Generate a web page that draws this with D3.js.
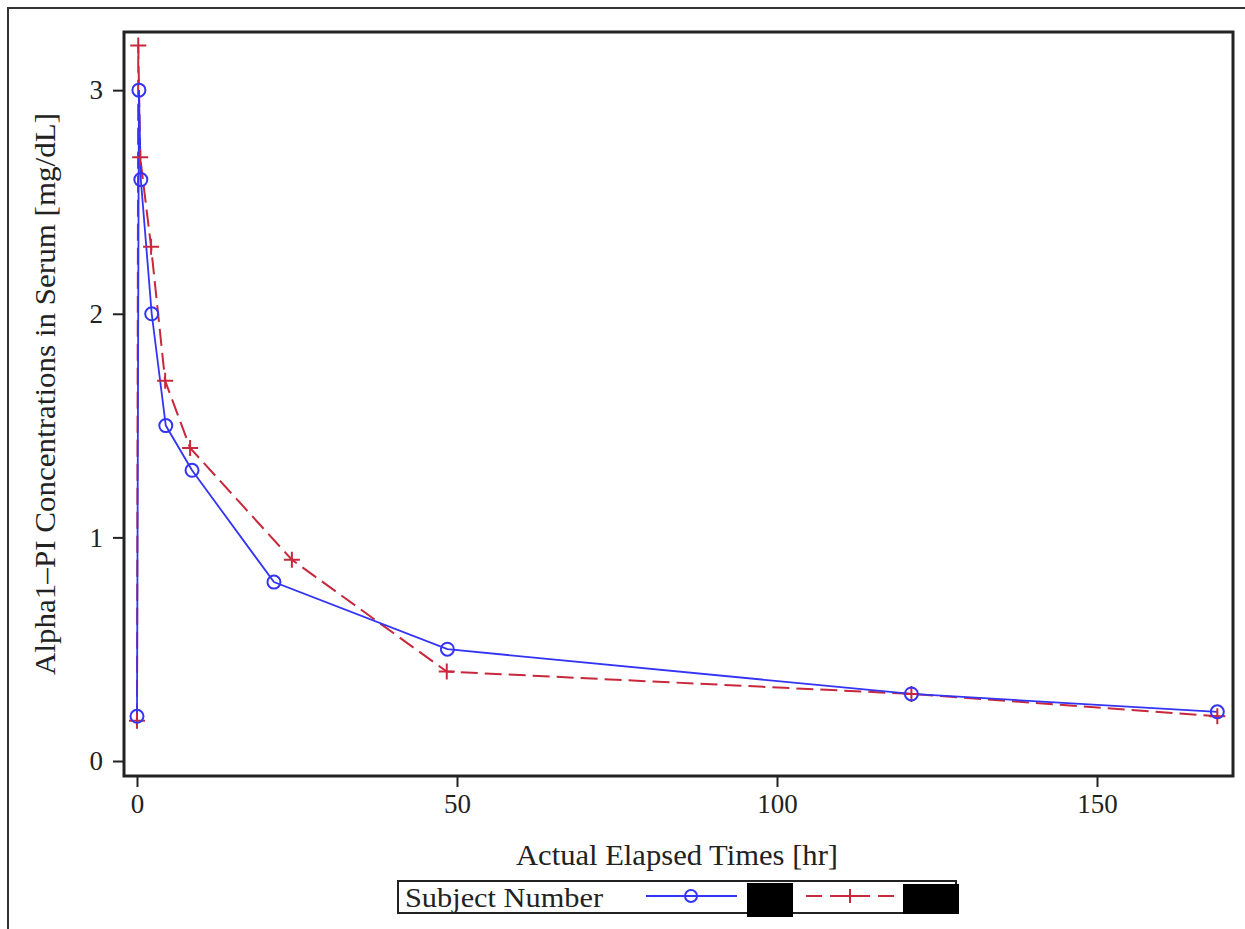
<!DOCTYPE html>
<html>
<head>
<meta charset="utf-8">
<script src="https://cdn.jsdelivr.net/npm/d3@7"></script>
<style>
  body { margin: 0; background: #fff; }
  svg { display: block; }
  text { font-family: "Liberation Serif", "DejaVu Serif", serif; fill: #222; }
</style>
</head>
<body>
<svg id="chart" width="1245" height="929"></svg>
<script>
// subject A (blue, solid, circles)
const timesA = [0, 0.3, 0.6, 2.3, 4.5, 8.6, 21.4, 48.5, 121, 168.8];
const concA  = [0.2, 3.0, 2.6, 2.0, 1.5, 1.3, 0.8, 0.5, 0.3, 0.22];
// subject B (red, dashed, plus)
const timesB = [0, 0.2, 0.5, 2.2, 4.4, 8.3, 24.2, 48.4, 121, 168.8];
const concB  = [0.18, 3.2, 2.7, 2.3, 1.7, 1.4, 0.9, 0.4, 0.3, 0.2];

const xTicks = [0, 50, 100, 150];
const yTicks = [0, 1, 2, 3];

const svg = d3.select("#chart");
const box = { left: 124, right: 1233, top: 32, bottom: 776 };

const x = d3.scaleLinear().domain([-2.03, 171.25]).range([box.left, box.right]);
const y = d3.scaleLinear().domain([-0.067, 3.26]).range([box.bottom, box.top]);

// outer frame (only top and left show)
svg.append("path")
  .attr("d", "M8,929V8H1245")
  .attr("fill", "none").attr("stroke", "#333").attr("stroke-width", 2);

// axes
const xAxis = svg.append("g")
  .attr("transform", `translate(0,${box.bottom})`)
  .call(d3.axisBottom(x).tickValues(xTicks).tickSize(11).tickPadding(7).tickFormat(d3.format("d")));
const yAxis = svg.append("g")
  .attr("transform", `translate(${box.left},0)`)
  .call(d3.axisLeft(y).tickValues(yTicks).tickSize(11).tickPadding(10).tickFormat(d3.format("d")));
[xAxis, yAxis].forEach(a => {
  a.select(".domain").remove();
  a.selectAll(".tick line").attr("stroke", "#222").attr("stroke-width", 2);
  a.selectAll(".tick text").attr("font-size", 27).attr("font-family", "Liberation Serif").attr("fill", "#222");
});

// plot frame
svg.append("rect")
  .attr("x", box.left).attr("y", box.top)
  .attr("width", box.right - box.left).attr("height", box.bottom - box.top)
  .attr("fill", "none").attr("stroke", "#222").attr("stroke-width", 3);

// axis titles
svg.append("text")
  .attr("x", 677).attr("y", 865)
  .attr("text-anchor", "middle").attr("font-size", 29)
  .attr("textLength", 322).attr("lengthAdjust", "spacingAndGlyphs")
  .text("Actual Elapsed Times [hr]");
svg.append("text")
  .attr("transform", "translate(55,394) rotate(-90)")
  .attr("text-anchor", "middle").attr("font-size", 29)
  .attr("textLength", 562).attr("lengthAdjust", "spacingAndGlyphs")
  .text("Alpha1\u2013PI Concentrations in Serum [mg/dL]");

const blue = "#3434f4", red = "#c8283c";
const line = d3.line().x(d => x(d[0])).y(d => y(d[1]));
const ptsA = d3.zip(timesA, concA);
const ptsB = d3.zip(timesB, concB);

const plot = svg.append("g");
plot.append("path").datum(ptsB)
  .attr("d", line).attr("fill", "none")
  .attr("stroke", red).attr("stroke-width", 2).attr("stroke-dasharray", "17,7");
plot.append("path").datum(ptsA)
  .attr("d", line).attr("fill", "none")
  .attr("stroke", blue).attr("stroke-width", 1.8);

const plus = s => `M${-s},0H${s}M0,${-s}V${s}`;
plot.selectAll(".pB").data(ptsB).enter().append("path")
  .attr("transform", d => `translate(${x(d[0])},${y(d[1])})`)
  .attr("d", plus(8)).attr("stroke", red).attr("stroke-width", 2);
plot.selectAll(".pA").data(ptsA).enter().append("circle")
  .attr("cx", d => x(d[0])).attr("cy", d => y(d[1])).attr("r", 6.5)
  .attr("fill", "none").attr("stroke", blue).attr("stroke-width", 2);

// legend
const lg = svg.append("g");
lg.append("rect").attr("x", 398).attr("y", 881).attr("width", 558).attr("height", 32)
  .attr("fill", "#fff").attr("stroke", "#222").attr("stroke-width", 2);
lg.append("text").attr("x", 405).attr("y", 907).attr("font-size", 27)
  .attr("textLength", 198).attr("lengthAdjust", "spacingAndGlyphs")
  .text("Subject Number");
lg.append("line").attr("x1", 646).attr("x2", 737).attr("y1", 896).attr("y2", 896)
  .attr("stroke", blue).attr("stroke-width", 1.8);
lg.append("circle").attr("cx", 691).attr("cy", 896).attr("r", 6)
  .attr("fill", "none").attr("stroke", blue).attr("stroke-width", 2);
lg.append("rect").attr("x", 747).attr("y", 883).attr("width", 46).attr("height", 34).attr("fill", "#000");
lg.append("line").attr("x1", 806).attr("x2", 900).attr("y1", 896).attr("y2", 896)
  .attr("stroke", red).attr("stroke-width", 2).attr("stroke-dasharray", "16,8");
lg.append("path").attr("transform", "translate(850,896)").attr("d", plus(7))
  .attr("stroke", red).attr("stroke-width", 2);
lg.append("rect").attr("x", 903).attr("y", 884).attr("width", 56).attr("height", 30).attr("fill", "#000");
</script>
</body>
</html>
